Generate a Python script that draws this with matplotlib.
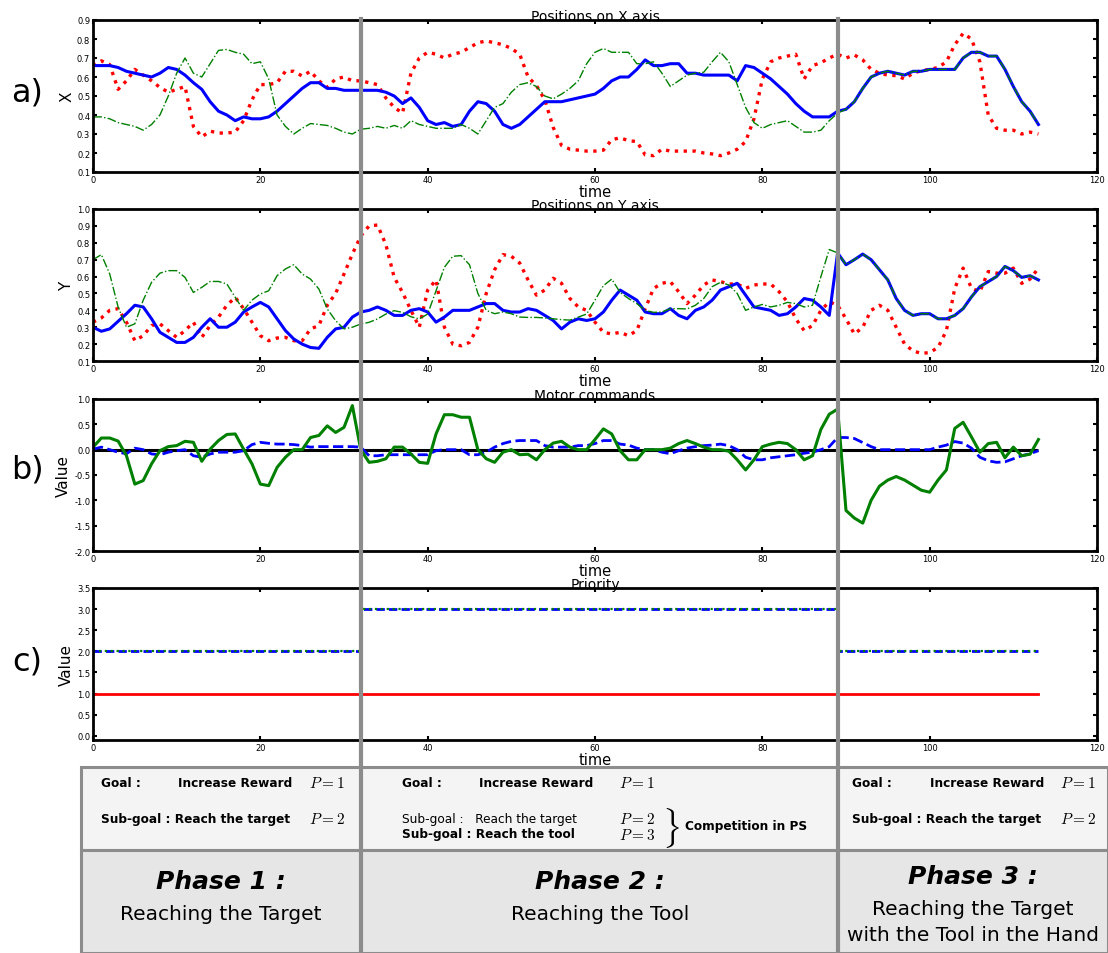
import numpy as np
import matplotlib
matplotlib.use('Agg')
import matplotlib.pyplot as plt
import matplotlib.transforms as mtransforms
from matplotlib.lines import Line2D
from matplotlib.patches import Rectangle

plt.rcParams['mathtext.fontset'] = 'cm'

# ---- data ----
time = np.arange(114)
phase_bounds = [32, 89]

target_x = [0.66, 0.685, 0.665, 0.535, 0.58, 0.64, 0.61, 0.58, 0.545, 0.52,
            0.535, 0.55, 0.34, 0.285, 0.315, 0.305, 0.305, 0.31, 0.37, 0.48,
            0.56, 0.56, 0.57, 0.63, 0.63, 0.605, 0.63, 0.58, 0.545, 0.59,
            0.60, 0.58, 0.58, 0.57, 0.56, 0.49, 0.44, 0.41, 0.62, 0.70,
            0.73, 0.72, 0.70, 0.72, 0.73, 0.755, 0.78, 0.79, 0.78, 0.77,
            0.75, 0.72, 0.60, 0.555, 0.48, 0.335, 0.24, 0.22, 0.215, 0.21,
            0.21, 0.215, 0.27, 0.28, 0.265, 0.26, 0.19, 0.186, 0.22, 0.21,
            0.21, 0.21, 0.21, 0.20, 0.195, 0.186, 0.20, 0.22, 0.26, 0.38,
            0.59, 0.68, 0.70, 0.71, 0.72, 0.59, 0.66, 0.675, 0.70, 0.72,
            0.70, 0.716, 0.69, 0.64, 0.62, 0.61, 0.607, 0.59, 0.62, 0.633,
            0.64, 0.65, 0.68, 0.77, 0.83, 0.80, 0.68, 0.40, 0.33, 0.32,
            0.32, 0.30, 0.31, 0.30]

hand_x = [0.66, 0.66, 0.66, 0.65, 0.63, 0.62, 0.61, 0.60, 0.62, 0.65,
          0.64, 0.61, 0.57, 0.535, 0.47, 0.42, 0.40, 0.37, 0.39, 0.38,
          0.38, 0.39, 0.42, 0.46, 0.50, 0.54, 0.57, 0.57, 0.54, 0.54,
          0.53, 0.53, 0.53, 0.53, 0.53, 0.52, 0.50, 0.46, 0.49, 0.44,
          0.37, 0.35, 0.36, 0.34, 0.35, 0.42, 0.47, 0.46, 0.42, 0.35,
          0.33, 0.35, 0.39, 0.43, 0.47, 0.47, 0.47, 0.48, 0.49, 0.50,
          0.51, 0.54, 0.58, 0.60, 0.60, 0.64, 0.69, 0.66, 0.66, 0.67,
          0.67, 0.62, 0.62, 0.61, 0.61, 0.61, 0.61, 0.58, 0.66, 0.65,
          0.62, 0.59, 0.55, 0.51, 0.46, 0.42, 0.39, 0.39, 0.39, 0.42,
          0.43, 0.47, 0.54, 0.60, 0.62, 0.63, 0.62, 0.61, 0.63, 0.63,
          0.64, 0.64, 0.64, 0.64, 0.70, 0.73, 0.73, 0.71, 0.71, 0.64,
          0.55, 0.47, 0.42, 0.35]

tool_x_free = [0.39, 0.39, 0.38, 0.36, 0.35, 0.34, 0.32, 0.35, 0.40, 0.50,
               0.62, 0.70, 0.62, 0.60, 0.67, 0.74, 0.745, 0.73, 0.72, 0.67,
               0.68, 0.59, 0.40, 0.34, 0.30, 0.33, 0.355, 0.35, 0.345, 0.33,
               0.31, 0.30, 0.325, 0.33, 0.34, 0.33, 0.345, 0.33, 0.37, 0.35,
               0.34, 0.33, 0.33, 0.33, 0.35, 0.33, 0.30, 0.37, 0.44, 0.46,
               0.52, 0.56, 0.57, 0.55, 0.50, 0.485, 0.51, 0.54, 0.58, 0.67,
               0.73, 0.75, 0.73, 0.73, 0.73, 0.67, 0.67, 0.68, 0.62, 0.55,
               0.58, 0.61, 0.62, 0.625, 0.68, 0.73, 0.68, 0.56, 0.44, 0.36,
               0.33, 0.35, 0.36, 0.37, 0.34, 0.31, 0.31, 0.32, 0.37, 0.41]
tool_x = tool_x_free + hand_x[len(tool_x_free):]

target_y = [0.33, 0.355, 0.40, 0.41, 0.33, 0.22, 0.25, 0.31, 0.32, 0.28,
            0.24, 0.28, 0.33, 0.24, 0.31, 0.36, 0.43, 0.477, 0.41, 0.33,
            0.25, 0.22, 0.236, 0.24, 0.22, 0.22, 0.29, 0.31, 0.43, 0.50,
            0.615, 0.733, 0.84, 0.90, 0.905, 0.79, 0.595, 0.506, 0.40, 0.30,
            0.52, 0.58, 0.30, 0.20, 0.19, 0.21, 0.30, 0.50, 0.64, 0.73,
            0.72, 0.68, 0.58, 0.49, 0.52, 0.59, 0.56, 0.47, 0.42, 0.40,
            0.33, 0.27, 0.26, 0.27, 0.25, 0.28, 0.41, 0.53, 0.56, 0.57,
            0.51, 0.44, 0.49, 0.55, 0.58, 0.57, 0.556, 0.556, 0.53, 0.55,
            0.556, 0.556, 0.51, 0.45, 0.35, 0.28, 0.31, 0.40, 0.45, 0.43,
            0.35, 0.26, 0.30, 0.40, 0.43, 0.40, 0.30, 0.20, 0.16, 0.145,
            0.15, 0.18, 0.28, 0.53, 0.65, 0.53, 0.51, 0.63, 0.62, 0.62,
            0.65, 0.56, 0.585, 0.65]

hand_y = [0.30, 0.276, 0.29, 0.335, 0.38, 0.43, 0.42, 0.35, 0.27, 0.24,
          0.21, 0.21, 0.24, 0.30, 0.35, 0.30, 0.30, 0.33, 0.39, 0.42,
          0.447, 0.42, 0.35, 0.28, 0.23, 0.20, 0.18, 0.175, 0.24, 0.29,
          0.30, 0.36, 0.39, 0.40, 0.42, 0.40, 0.37, 0.37, 0.40, 0.41,
          0.39, 0.33, 0.36, 0.40, 0.40, 0.40, 0.42, 0.44, 0.44, 0.40,
          0.39, 0.39, 0.41, 0.40, 0.37, 0.34, 0.29, 0.33, 0.35, 0.34,
          0.35, 0.39, 0.46, 0.52, 0.49, 0.46, 0.39, 0.38, 0.38, 0.41,
          0.37, 0.35, 0.40, 0.42, 0.46, 0.52, 0.54, 0.56, 0.49, 0.42,
          0.41, 0.40, 0.37, 0.38, 0.42, 0.47, 0.46, 0.42, 0.37, 0.74,
          0.67, 0.70, 0.733, 0.70, 0.64, 0.58, 0.47, 0.40, 0.37, 0.38,
          0.38, 0.35, 0.35, 0.37, 0.41, 0.48, 0.54, 0.57, 0.60, 0.66,
          0.635, 0.595, 0.605, 0.58]

tool_y_free = [0.70, 0.73, 0.615, 0.42, 0.30, 0.32, 0.46, 0.566, 0.62, 0.635,
               0.635, 0.595, 0.506, 0.536, 0.571, 0.571, 0.556, 0.477, 0.40, 0.46,
               0.497, 0.516, 0.605, 0.645, 0.67, 0.615, 0.585, 0.526, 0.408, 0.339,
               0.29, 0.30, 0.319, 0.329, 0.349, 0.378, 0.398, 0.388, 0.362, 0.349,
               0.378, 0.516, 0.655, 0.72, 0.724, 0.67, 0.50, 0.40, 0.38, 0.39,
               0.38, 0.36, 0.358, 0.358, 0.355, 0.35, 0.345, 0.342, 0.36, 0.378,
               0.46, 0.546, 0.585, 0.506, 0.47, 0.44, 0.40, 0.388, 0.39, 0.41,
               0.41, 0.408, 0.43, 0.47, 0.54, 0.566, 0.55, 0.50, 0.40, 0.42,
               0.435, 0.42, 0.43, 0.447, 0.44, 0.42, 0.43, 0.60, 0.76]
tool_y = tool_y_free + hand_y[len(tool_y_free):]

motor_1 = [0.05, 0.23, 0.23, 0.17, -0.12, -0.68, -0.61, -0.28, -0.02, 0.06,
           0.08, 0.165, 0.145, -0.23, 0.01, 0.18, 0.30, 0.31, 0.01, -0.28,
           -0.68, -0.71, -0.35, -0.15, 0.0, 0.0, 0.24, 0.28, 0.47, 0.34,
           0.44, 0.87, 0.0, -0.25, -0.23, -0.18, 0.05, 0.05, -0.085, -0.25,
           -0.27, 0.31, 0.69, 0.69, 0.64, 0.64, 0.0, -0.18, -0.25, -0.05,
           0.0, -0.1, -0.09, -0.2, 0.0, 0.13, 0.165, 0.05, 0.0, 0.0,
           0.2, 0.41, 0.31, -0.02, -0.2, -0.2, 0.0, 0.0, 0.0, 0.03,
           0.12, 0.18, 0.12, 0.05, 0.0, 0.0, -0.03, -0.2, -0.4, -0.2,
           0.06, 0.11, 0.145, 0.12, 0.0, -0.2, -0.12, 0.40, 0.70, 0.80,
           -1.2, -1.35, -1.45, -1.0, -0.72, -0.6, -0.53, -0.6, -0.7, -0.8,
           -0.84, -0.6, -0.4, 0.42, 0.54, 0.25, -0.05, 0.12, 0.145, -0.16,
           0.05, -0.12, -0.09, 0.2]

motor_2 = [0.01, 0.05, 0.0, -0.05, -0.08, 0.03, 0.0, -0.085, -0.1, -0.05,
           -0.02, 0.0, -0.12, -0.15, -0.085, -0.05, -0.05, -0.05, -0.02, 0.10,
           0.145, 0.125, 0.11, 0.11, 0.10, 0.08, 0.05, 0.06, 0.06, 0.06,
           0.06, 0.06, 0.05, -0.12, -0.12, -0.1, -0.1, -0.1, -0.1, -0.1,
           -0.1, -0.02, 0.0, 0.0, 0.0, -0.1, -0.1, -0.05, 0.05, 0.12,
           0.165, 0.18, 0.18, 0.18, 0.08, 0.05, 0.05, 0.05, 0.08, 0.08,
           0.12, 0.18, 0.18, 0.11, 0.09, 0.03, 0.0, 0.0, -0.05, -0.08,
           -0.02, 0.03, 0.06, 0.08, 0.09, 0.11, 0.08, 0.0, -0.15, -0.2,
           -0.2, -0.16, -0.14, -0.12, -0.1, -0.07, -0.05, 0.0, 0.06, 0.24,
           0.24, 0.22, 0.14, 0.06, 0.0, 0.0, 0.0, 0.0, 0.0, 0.0,
           0.0, 0.05, 0.09, 0.16, 0.13, 0.03, -0.15, -0.22, -0.25, -0.24,
           -0.18, -0.12, -0.08, -0.02]

prio_reward = [1.0] * 114
prio_target = [2.0] * 32 + [3.0] * 57 + [2.0] * 25
prio_tool = [2.0] * 32 + [3.0] * 57 + [2.0] * 25

# ---- figure ----
W, H = 1108, 954
fig = plt.figure(figsize=(W / 100, H / 100), dpi=100)


def fx(px):
    return px / W


def fy(py):
    return 1 - py / H


panels = [(21, 173), (210, 362), (400, 552), (589, 741)]
axes = []
for top, bot in panels:
    ax = fig.add_axes([fx(93), fy(bot), fx(1097) - fx(93), fy(top) - fy(bot)])
    ax.set_xlim(0, 120)
    ax.set_xticks(np.arange(0, 121, 20))
    ax.tick_params(direction='in', top=True, right=True, length=3, width=1.5,
                   labelsize=6, pad=2)
    for s in ax.spines.values():
        s.set_linewidth(2)
    ax.set_xlabel('time', fontsize=10.5, labelpad=0)
    axes.append(ax)

ax1, ax2, ax3, ax4 = axes

ax1.plot(time, target_x, color='red', ls=':', lw=2.4)
ax1.plot(time, hand_x, color='blue', lw=2.2)
ax1.plot(time, tool_x, color='green', ls='-.', lw=1.0)
ax1.set_ylim(0.1, 0.9)
ax1.set_yticks(np.arange(0.1, 0.91, 0.1))
ax1.set_ylabel('X', fontsize=11, labelpad=2)
ax1.set_title('Positions on X axis', fontsize=10, pad=0)

ax2.plot(time, target_y, color='red', ls=':', lw=2.4)
ax2.plot(time, hand_y, color='blue', lw=2.2)
ax2.plot(time, tool_y, color='green', ls='-.', lw=1.0)
ax2.set_ylim(0.1, 1.0)
ax2.set_yticks(np.arange(0.1, 1.01, 0.1))
ax2.set_ylabel('Y', fontsize=11, labelpad=2)
ax2.set_title('Positions on Y axis', fontsize=10, pad=0)

ax3.hlines(0, time[0], time[-1], color='black', lw=2.2)
ax3.plot(time, motor_2, color='blue', ls='--', lw=2.0)
ax3.plot(time, motor_1, color='green', lw=2.2)
ax3.set_ylim(-2.0, 1.0)
ax3.set_yticks(np.arange(-2.0, 1.01, 0.5))
ax3.set_ylabel('Value', fontsize=11, labelpad=2)
ax3.set_title('Motor commands', fontsize=10, pad=0)

ax4.plot(time, prio_reward, color='red', lw=2.0)
ax4.plot(time, prio_target, color='blue', ls=(0, (3, 1.5)), lw=2.0,
         drawstyle='steps-post')
ax4.plot(time, prio_tool, color='green', ls=':', lw=1.6, drawstyle='steps-post')
ax4.set_ylim(-0.1, 3.5)
ax4.set_yticks(np.arange(0.0, 3.51, 0.5))
ax4.set_ylabel('Value', fontsize=11, labelpad=2)
ax4.set_title('Priority', fontsize=10, pad=0)

for ax in axes:
    ax.yaxis.set_major_formatter(plt.FormatStrFormatter('%.1f'))

# ---- table below the plots ----
grey = '#8c8c8c'
fig.patches.append(Rectangle((fx(81), fy(851)), fx(W) - fx(81), fy(768) - fy(851),
                             transform=fig.transFigure, facecolor='#f4f4f4',
                             edgecolor=grey, lw=2.2, zorder=0))
fig.patches.append(Rectangle((fx(81), fy(H)), fx(W) - fx(81), fy(851) - fy(H),
                             transform=fig.transFigure, facecolor='#e6e6e6',
                             edgecolor=grey, lw=2.2, zorder=0))

# phase boundaries running through all panels and the table
trans = mtransforms.blended_transform_factory(ax1.transData, fig.transFigure)
for b in phase_bounds:
    fig.add_artist(Line2D([b, b], [0, fy(20)], transform=trans, color=grey, lw=3,
                          zorder=10))

bold = dict(fontsize=8.7, fontweight='bold', va='center', ha='left')
norm = dict(fontsize=8.7, va='center', ha='left')
math = dict(fontsize=11, va='center', ha='left')

for x0, xr, xp in [(101, 178, 309), (402, 479, 619), (852, 930, 1060)]:
    fig.text(fx(x0), fy(784), 'Goal :', **bold)
    fig.text(fx(xr), fy(784), 'Increase Reward', **bold)
    fig.text(fx(xp), fy(784), r'$P = 1$', **math)

fig.text(fx(101), fy(819), 'Sub-goal : Reach the target', **bold)
fig.text(fx(309), fy(819), r'$P = 2$', **math)
fig.text(fx(852), fy(819), 'Sub-goal : Reach the target', **bold)
fig.text(fx(1060), fy(819), r'$P = 2$', **math)

fig.text(fx(402), fy(819), 'Sub-goal :   Reach the target', **norm)
fig.text(fx(402), fy(835), 'Sub-goal : Reach the tool', **bold)
fig.text(fx(619), fy(820), r'$P = 2$', **math)
fig.text(fx(619), fy(836), r'$P = 3$', **math)
fig.text(fx(662), fy(828), r'$\}$', fontsize=24, va='center', ha='left')
fig.text(fx(685), fy(827), 'Competition in PS', **bold)

ph = dict(fontsize=18, fontweight='bold', style='italic', ha='center', va='center')
sub = dict(fontsize=14.5, ha='center', va='center')
fig.text(fx(221), fy(882), 'Phase 1 :', **ph)
fig.text(fx(221), fy(915), 'Reaching the Target', **sub)
fig.text(fx(600), fy(882), 'Phase 2 :', **ph)
fig.text(fx(600), fy(915), 'Reaching the Tool', **sub)
fig.text(fx(973), fy(877), 'Phase 3 :', **ph)
fig.text(fx(973), fy(910), 'Reaching the Target', **sub)
fig.text(fx(973), fy(936), 'with the Tool in the Hand', **sub)

# panel letters
for lab, py in [('a)', 93), ('b)', 470), ('c)', 662)]:
    fig.text(fx(27), fy(py), lab, fontsize=23, ha='center', va='center')

fig.savefig('out.png', dpi=100)
